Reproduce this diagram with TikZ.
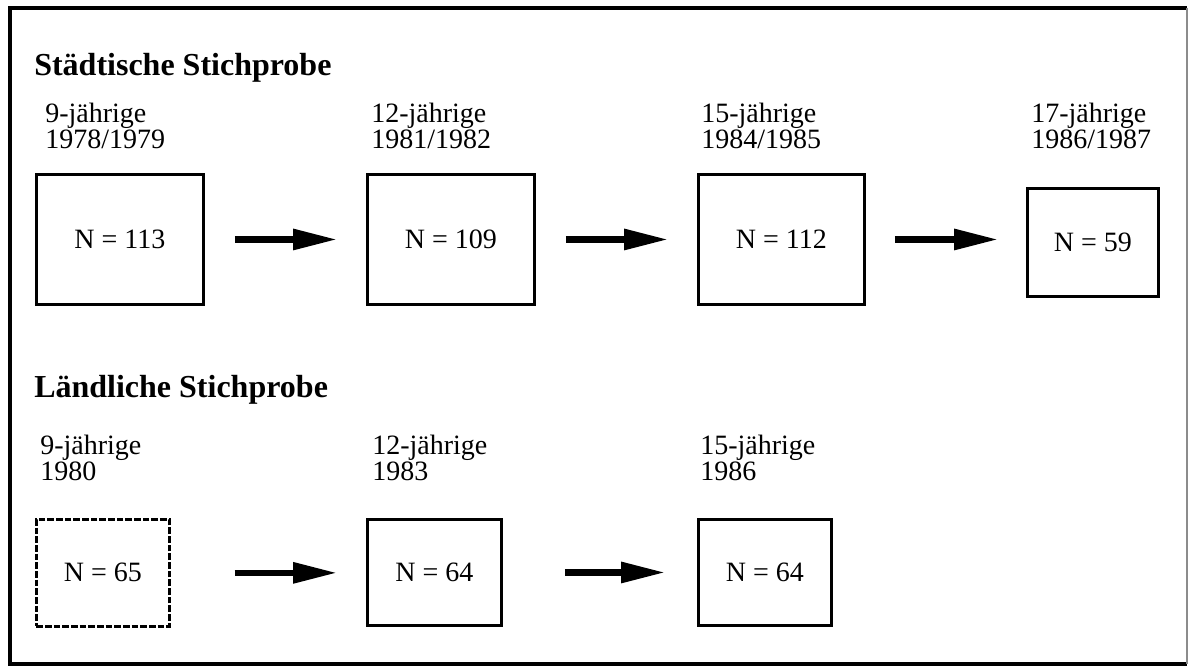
\documentclass[tikz,border=0pt]{standalone}
\usepackage{fontspec}
\setmainfont{Liberation Serif}
\usetikzlibrary{arrows.meta}

\begin{document}
\begin{tikzpicture}[x=0.75pt,y=-0.75pt,
  title/.style={anchor=base west,inner sep=0pt,font=\fontsize{24}{28}\selectfont\bfseries},
  lbl/.style={anchor=north west,inner sep=0pt,align=left,
    font=\fontsize{21}{19.6}\selectfont},
  sbox/.style={draw,line width=2.2pt,anchor=north west,inner sep=0pt,
    font=\fontsize{21}{24}\selectfont},
  dbox/.style={sbox,line width=2pt,dash pattern=on 5pt off 1.5pt},
  flow/.style={line width=4.6pt,-{Triangle[length=33pt,width=15pt]}}
]
\useasboundingbox (0,0) rectangle (1189,669);

% outer frame
\draw[line width=3.6pt] (1187,8) -- (10,8) -- (10,664) -- (1187,664);
\draw[line width=0.8pt,black!45] (1187,8) -- (1187,664);

% urban sample
\node[title] (t1) at (34,75) {Städtische Stichprobe};

\node[lbl] (l1) at (45,103) {9-jährige\\1978/1979};
\node[lbl] (l2) at (371,103) {12-jährige\\1981/1982};
\node[lbl] (l3) at (701,103) {15-jährige\\1984/1985};
\node[lbl] (l4) at (1031,103) {17-jährige\\1986/1987};

\node[sbox,minimum width=167*0.75pt,minimum height=130*0.75pt] (b1) at (35,173) {N = 113};
\node[sbox,minimum width=167*0.75pt,minimum height=130*0.75pt] (b2) at (366,173) {N = 109};
\node[sbox,minimum width=166*0.75pt,minimum height=130*0.75pt] (b3) at (697,173) {N = 112};
\node[sbox,minimum width=131*0.75pt,minimum height=108*0.75pt] (b4) at (1026,187) {N = 59};

\draw[flow,shorten <=30*0.75pt,shorten >=29*0.75pt] (b1.east) -- (b1.east -| b2.west);
\draw[flow,shorten <=30*0.75pt,shorten >=29*0.75pt] (b2.east) -- (b2.east -| b3.west);
\draw[flow,shorten <=29*0.75pt,shorten >=28*0.75pt] (b3.east) -- (b3.east -| b4.west);

% rural sample
\node[title] (t2) at (34,397) {Ländliche Stichprobe};

\node[lbl] (m1) at (40,435) {9-jährige\\1980};
\node[lbl] (m2) at (372,435) {12-jährige\\1983};
\node[lbl] (m3) at (700,435) {15-jährige\\1986};

\node[dbox,minimum width=133*0.75pt,minimum height=107*0.75pt] (c1) at (35,518) {N = 65};
\node[sbox,minimum width=134*0.75pt,minimum height=106*0.75pt] (c2) at (366,518) {N = 64};
\node[sbox,minimum width=133*0.75pt,minimum height=106*0.75pt] (c3) at (697,518) {N = 64};

\draw[flow,shorten <=64*0.75pt,shorten >=29*0.75pt] (c1.east) -- (c1.east -| c2.west);
\draw[flow,shorten <=62*0.75pt,shorten >=32*0.75pt] (c2.east) -- (c2.east -| c3.west);
\end{tikzpicture}
\end{document}
